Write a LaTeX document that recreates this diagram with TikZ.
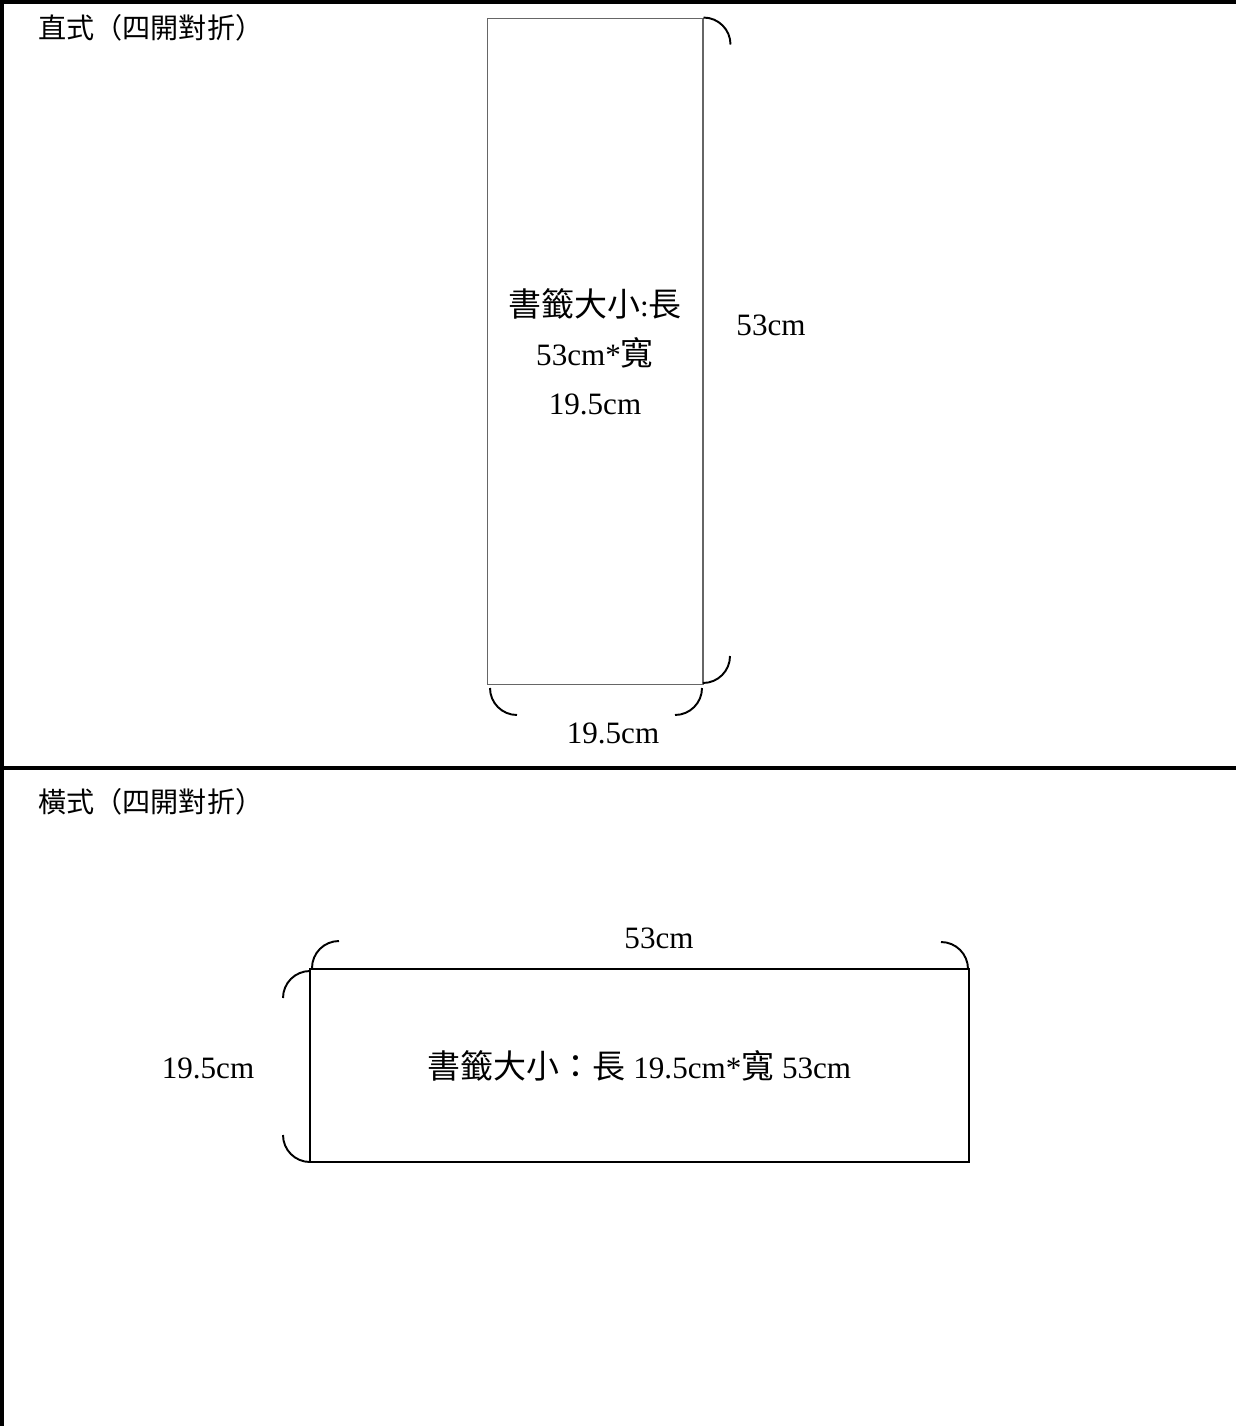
\documentclass[tikz,border=0pt]{standalone}
\usepackage{fontspec}
\setmainfont{Liberation Serif}
\newfontfamily\cjk[Scale=1.06]{Noto Sans CJK TC}
\newfontfamily\cjktitle{Noto Sans CJK TC}
\usetikzlibrary{positioning}
\tikzset{frame/.style={line width=2pt},
bracket/.style={line width=1.1pt},
title/.style={anchor=west, inner sep=0pt, font=\cjktitle\fontsize{16}{19}\selectfont},
dim/.style={inner sep=0pt, font=\fontsize{17.7}{21}\selectfont},
sheet/.style={draw, inner sep=0pt, align=center, font=\fontsize{17.7}{27.8}\selectfont}}

\begin{document}
\begin{tikzpicture}[x=0.02cm, y=0.02cm]
\useasboundingbox (0,0) rectangle (1236,-1426);
% table rules
\draw[frame] (0,-2) -- (1236,-2);
\draw[frame] (2,0) -- (2,-1426);
\draw[frame] (0,-768) -- (1236,-768);

% upright bookmark
\node[title] (uptitle) at (38,-28) {直式（四開對折）};
\node[sheet, draw=black!60, line width=0.6pt, minimum width=4.32cm, minimum height=13.34cm]
  (upright) at (595,-351.5) {{\cjk 書籤大小}:{\cjk 長}\\53cm*{\cjk 寬}\\19.5cm};
\draw[bracket] (upright.north east) arc[start angle=90, end angle=0, radius=0.54cm];
\draw[bracket] (730,-656) arc[start angle=0, end angle=-90, radius=0.54cm];
\draw[bracket] (490,-688) arc[start angle=180, end angle=270, radius=0.54cm];
\draw[bracket] (702,-688) arc[start angle=0, end angle=-90, radius=0.54cm];
\node[dim] (uplen) at (771,-325) {53cm};
\node[dim] (upwid) at (613,-733) {19.5cm};

% landscape bookmark
\node[title] (lstitle) at (38,-802) {橫式（四開對折）};
\node[sheet, line width=1.1pt, minimum width=13.18cm, minimum height=3.86cm]
  (landscape) at (639.5,-1065.5) {{\cjk 書籤大小：長} 19.5cm*{\cjk 寬} 53cm};
\draw[bracket] (312,-968) arc[start angle=180, end angle=90, radius=0.54cm];
\draw[bracket] (941,-942) arc[start angle=90, end angle=0, radius=0.54cm];
\draw[bracket] (310,-971) arc[start angle=90, end angle=180, radius=0.54cm];
\draw[bracket] (283,-1135) arc[start angle=180, end angle=270, radius=0.54cm];
\node[dim] (lslen) at (659,-938) {53cm};
\node[dim] (lswid) at (208,-1068) {19.5cm};
\end{tikzpicture}
\end{document}
